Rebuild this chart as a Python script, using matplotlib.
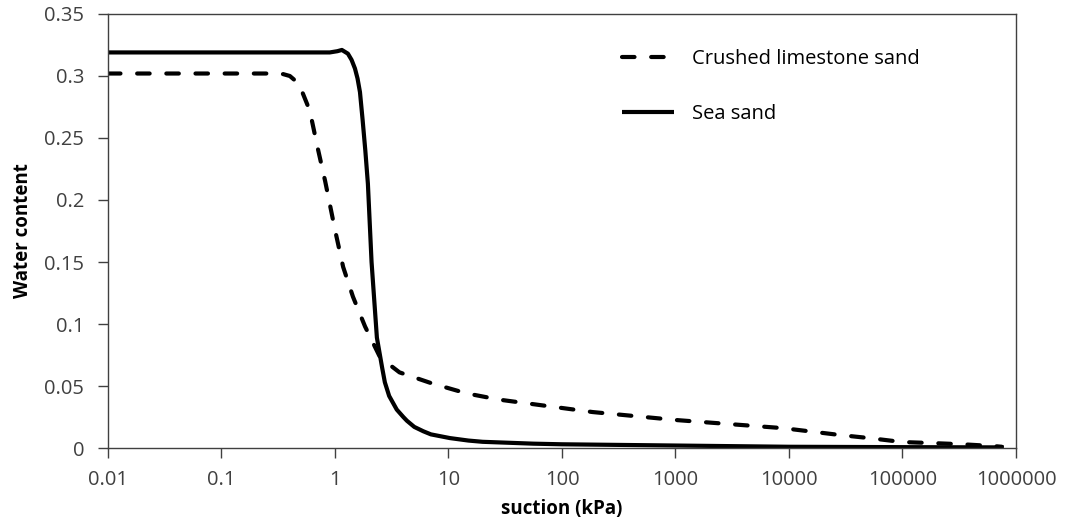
import matplotlib
matplotlib.use("Agg")
from matplotlib import pyplot as plt

# suction (kPa) and water content
limestone_suction = [0.01, 0.1, 0.3, 0.35, 0.4, 0.45, 0.5, 0.6, 0.7, 0.82, 1.0, 1.18, 1.44,
                     1.84, 2.5, 3.7, 7.2, 14.5, 28, 186, 1000, 8900, 28000, 51000, 100000,
                     180000, 340000, 650000, 750000]
limestone_water = [0.302, 0.302, 0.302, 0.3015, 0.300, 0.296, 0.290, 0.272, 0.243, 0.215,
                   0.176, 0.146, 0.122, 0.098, 0.073, 0.061, 0.052, 0.044, 0.039, 0.029,
                   0.0226, 0.016, 0.0105, 0.008, 0.0048, 0.004, 0.003, 0.0015, 0.001]

sea_suction = [0.01, 0.1, 0.5, 0.9, 1.05, 1.15, 1.3, 1.4, 1.5, 1.58, 1.66, 1.75, 1.85,
               1.95, 2.1, 2.34, 2.6, 2.75, 3.0, 3.5, 4.0, 4.3, 5.0, 6.0, 7.0, 10.3, 15,
               20, 56, 100, 1000, 10000, 100000, 780000]
sea_water = [0.319, 0.319, 0.319, 0.319, 0.320, 0.321, 0.318, 0.313, 0.306, 0.298, 0.287,
             0.265, 0.24, 0.213, 0.15, 0.089, 0.065, 0.053, 0.042, 0.031, 0.025, 0.022,
             0.017, 0.0135, 0.011, 0.008, 0.006, 0.005, 0.0035, 0.003, 0.002, 0.001,
             0.0007, 0.0005]

xticks = [0.01, 0.1, 1, 10, 100, 1000, 10000, 100000, 1000000]
xlabels = ["0.01", "0.1", "1", "10", "100", "1000", "10000", "100000", "1000000"]
yticks = [0, 0.05, 0.1, 0.15, 0.2, 0.25, 0.3, 0.35]
ylabels = ["0", "0.05", "0.1", "0.15", "0.2", "0.25", "0.3", "0.35"]

plt.rcParams['font.family'] = ['Open Sans', 'DejaVu Sans']
txt = '#404040'

fig = plt.figure(figsize=(10.67, 5.28), dpi=100)
ax = fig.add_axes([0.1012, 0.1515, 0.851, 0.822])

ax.plot(limestone_suction, limestone_water, color='black', lw=3,
        dashes=(3, 4), dash_capstyle='round', label='Crushed limestone sand')
ax.plot(sea_suction, sea_water, color='black', lw=3, solid_capstyle='butt',
        solid_joinstyle='round', label='Sea sand')

ax.set_xscale('log')
ax.set_xlim(0.01, 1000000)
ax.set_ylim(0, 0.35)
ax.set_xticks(xticks)
ax.set_xticklabels(xlabels)
ax.minorticks_off()
ax.set_yticks(yticks)
ax.set_yticklabels(ylabels)
ax.tick_params(axis='both', direction='out', length=7, width=1, color='#404040',
               labelsize=14.5, labelcolor=txt)
ax.tick_params(axis='x', pad=9)
ax.tick_params(axis='y', pad=10)

for s in ['left', 'bottom', 'top', 'right']:
    ax.spines[s].set_color('#404040')
    ax.spines[s].set_linewidth(1)

ax.set_xlabel('suction (kPa)', fontsize=13.5, fontweight='bold', color='black', labelpad=6)
ax.set_ylabel('Water content', fontsize=13.5, fontweight='bold', color='black', labelpad=8)

ax.legend(loc='upper left', bbox_to_anchor=(0.546, 0.962), frameon=False,
          fontsize=14.5, handlelength=2.6, handletextpad=0.9, labelspacing=1.75,
          labelcolor='black')

plt.savefig("out.png", dpi=100)
plt.close('all')
